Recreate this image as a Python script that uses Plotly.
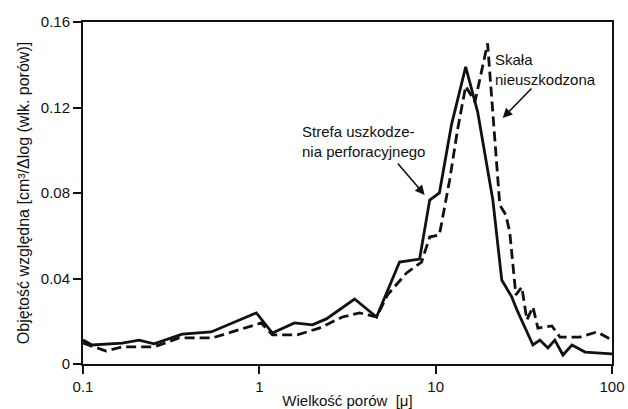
import math
import plotly.graph_objects as go

# Pore size [micron] and relative volume – damaged (perforation) zone, solid line
x_damaged = [0.1, 0.1125, 0.167, 0.208, 0.253, 0.365, 0.533, 0.962, 1.186, 1.58, 2.0, 2.40,
             3.47, 4.62, 6.24, 8.11, 9.25, 10.5, 12.3, 14.8, 17.3, 21.1, 23.7, 27.0,
             28.9, 35.6, 39.0, 43.3, 47.4, 52.7, 59.3, 70.3, 100]
y_damaged = [0.0112, 0.0089, 0.0098, 0.0112, 0.0094, 0.0140, 0.0150, 0.0239, 0.0145, 0.0192,
             0.0183, 0.0211, 0.0304, 0.0220, 0.0477, 0.0491, 0.0767, 0.0800, 0.1120, 0.1390,
             0.1180, 0.0767, 0.0393, 0.0314, 0.0253, 0.0089, 0.0112, 0.0075, 0.0112, 0.0042,
             0.0089, 0.0056, 0.0047]

# Undamaged rock, dashed line
x_intact = [0.1, 0.135, 0.167, 0.253, 0.351, 0.541, 1.026, 1.186, 1.64, 2.19, 2.96, 3.70,
            4.62, 5.33, 6.84, 8.32, 9.25, 10.5, 12.0, 13.3, 14.8, 16.7, 19.7, 23.1, 25.0,
            26.3, 28.5, 30.8, 32.9, 35.6, 38.0, 45.6, 50.7, 65.8, 82.2, 100]
y_intact = [0.0098, 0.0061, 0.0080, 0.0080, 0.0122, 0.0122, 0.0192, 0.0136, 0.0136, 0.0168,
            0.0220, 0.0239, 0.0220, 0.0323, 0.0426, 0.0477, 0.0594, 0.0604, 0.0860, 0.1095,
            0.1300, 0.1226, 0.1500, 0.0744, 0.0697, 0.0618, 0.0323, 0.0360, 0.0206, 0.0267,
            0.0168, 0.0178, 0.0126, 0.0126, 0.0150, 0.0112]

x_ticks = [0.1, 1, 10, 100]
x_ticktext = ["0.1", "1", "10", "100"]
y_ticks = [0, 0.04, 0.08, 0.12, 0.16]
y_ticktext = ["0", "0.04", "0.08", "0.12", "0.16"]

FONT = "Liberation Sans, Arial, Helvetica, sans-serif"
INK = "#111111"

fig = go.Figure()
fig.add_trace(go.Scatter(x=x_damaged, y=y_damaged, mode="lines",
                         line=dict(color=INK, width=2.8), name="Strefa uszkodzenia perforacyjnego"))
fig.add_trace(go.Scatter(x=x_intact, y=y_intact, mode="lines",
                         line=dict(color=INK, width=2.8, dash="10px,5px"), name="Skała nieuszkodzona"))

axis_common = dict(showgrid=False, zeroline=False, showline=True, linecolor=INK, linewidth=2,
                   mirror=True, ticks="outside", ticklen=8, tickwidth=2, tickcolor=INK,
                   tickfont=dict(family=FONT, size=15, color=INK))

fig.update_xaxes(type="log", range=[-1, 2], tickvals=x_ticks, ticktext=x_ticktext,
                 title=dict(text="Wielkość porów  [μ]", font=dict(family=FONT, size=15, color=INK),
                            standoff=1),
                 **axis_common)
fig.update_yaxes(range=[0, 0.16], tickvals=y_ticks, ticktext=y_ticktext,
                 title=dict(text="Objętość względna [cm³/Δlog (wlk. porów)]",
                            font=dict(family=FONT, size=16, color=INK), standoff=7),
                 **axis_common)

# text labels
fig.add_annotation(xref="paper", yref="paper", x=0.410, y=0.652, xanchor="left", yanchor="middle",
                   text="Strefa uszkodze-<br>nia perforacyjnego", showarrow=False, align="left",
                   font=dict(family=FONT, size=15, color=INK))
fig.add_annotation(xref="paper", yref="paper", x=0.775, y=0.861, xanchor="left", yanchor="middle",
                   text="Skała<br>nieuszkodzona", showarrow=False, align="left",
                   font=dict(family=FONT, size=15, color=INK))

# arrows (data coords, log10 for x on log axis)
fig.add_annotation(x=math.log10(8.66), y=0.0791, ax=math.log10(6.0), ay=0.0945,
                   xref="x", yref="y", axref="x", ayref="y", text="", showarrow=True,
                   arrowhead=2, arrowsize=1.2, arrowwidth=1.6, arrowcolor=INK)
fig.add_annotation(x=math.log10(24.0), y=0.1151, ax=math.log10(35.6), ay=0.1296,
                   xref="x", yref="y", axref="x", ayref="y", text="", showarrow=True,
                   arrowhead=2, arrowsize=1.2, arrowwidth=1.6, arrowcolor=INK)

fig.update_layout(width=628, height=409, margin=dict(l=83, r=16, t=22, b=45, autoexpand=False),
                  paper_bgcolor="white", plot_bgcolor="white", showlegend=False,
                  font=dict(family=FONT, color=INK))

fig.write_html("out.html")
